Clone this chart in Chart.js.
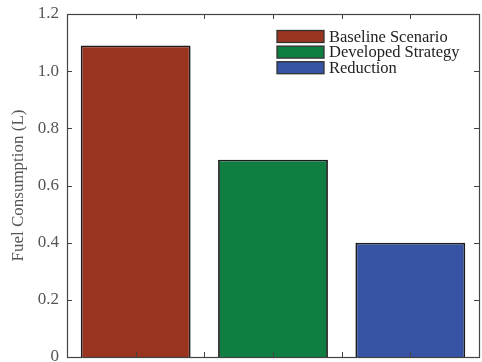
<!DOCTYPE html>
<html>
<head>
<meta charset="utf-8">
<script src="https://cdn.jsdelivr.net/npm/chart.js@4/dist/chart.umd.min.js"></script>
<style>
  html, body { margin: 0; padding: 0; background: #fff; overflow: hidden; width: 482px; height: 362px; }
  #wrap { width: 482px; height: 372px; }
</style>
</head>
<body>
<div id="wrap"><canvas id="c" width="482" height="372"></canvas></div>
<script>
// Fuel use per scenario (litres)
const categories = ['Baseline Scenario', 'Developed Strategy', 'Reduction'];
const fuelLitres = [1.09, 0.69, 0.40];
const barColors = ['#983420', '#0e7f40', '#3753a4'];
const yTickValues = [0, 0.2, 0.4, 0.6, 0.8, 1.0, 1.2];
const yTickLabels = ['0', '0.2', '0.4', '0.6', '0.8', '1.0', '1.2'];

const SERIF = '"Liberation Serif", "DejaVu Serif", serif';

// Box frame with inward tick marks on all four sides, plus the in-plot legend
const framePlugin = {
  id: 'frame',
  afterDatasetsDraw(chart) {
    const { ctx, chartArea: a, scales } = chart;
    const x = scales.x, y = scales.y;
    const tl = 5;
    ctx.save();
    ctx.strokeStyle = '#444';
    ctx.lineWidth = 1;
    ctx.beginPath();
    // y ticks, left and right
    yTickValues.forEach(v => {
      const py = Math.round(y.getPixelForValue(v)) + 0.5;
      ctx.moveTo(a.left, py); ctx.lineTo(a.left + tl, py);
      ctx.moveTo(a.right, py); ctx.lineTo(a.right - tl, py);
    });
    // x ticks at every half category step, top and bottom
    for (let k = 1; k < categories.length * 2; k++) {
      const v = k / 2 - 0.5;
      const px = Math.round(x.getPixelForValue(0) + (x.getPixelForValue(1) - x.getPixelForValue(0)) * v) + 0.5;
      ctx.moveTo(px, a.top); ctx.lineTo(px, a.top + tl);
      ctx.moveTo(px, a.bottom); ctx.lineTo(px, a.bottom - tl);
    }
    ctx.stroke();
    ctx.lineWidth = 1.2;
    ctx.strokeRect(Math.round(a.left) + 0.5, Math.round(a.top) + 0.5,
                   Math.round(a.right - a.left), Math.round(a.bottom - a.top));

    // legend
    const lx = a.right - 202, ly = a.top + 22.5;
    ctx.font = '16.5px ' + SERIF;
    ctx.textBaseline = 'middle';
    categories.forEach((name, i) => {
      const cy = ly + i * 15.6;
      ctx.fillStyle = barColors[i];
      ctx.fillRect(lx, cy - 6, 47, 12);
      ctx.strokeStyle = '#333';
      ctx.lineWidth = 1.3;
      ctx.strokeRect(lx, cy - 6, 47, 12);
      ctx.fillStyle = '#222';
      ctx.fillText(name, lx + 52, cy + 1);
    });
    ctx.restore();
  }
};

new Chart(document.getElementById('c'), {
  type: 'bar',
  data: {
    labels: categories,
    datasets: [{
      data: fuelLitres,
      backgroundColor: barColors,
      borderColor: '#1c1c1c',
      borderWidth: 1.8,
      barPercentage: 0.8,
      categoryPercentage: 1.0
    }]
  },
  options: {
    responsive: false,
    animation: false,
    events: [],
    layout: { padding: { top: 14, right: 3, left: 0, bottom: 0 } },
    plugins: { legend: { display: false }, tooltip: { enabled: false } },
    scales: {
      x: {
        offset: true,
        grid: { display: false, drawTicks: false },
        border: { display: false },
        ticks: { display: false },
        afterFit(s) { s.height = 15; }
      },
      y: {
        min: 0, max: 1.2,
        afterBuildTicks(s) { s.ticks = yTickValues.map(v => ({ value: v })); },
        afterFit(s) { s.width = 67; s.paddingTop = 0; s.paddingBottom = 0; },
        grid: { display: false, drawTicks: false },
        border: { display: false },
        ticks: {
          padding: 8,
          color: '#555',
          font: { family: SERIF, size: 17 },
          callback: (v, i) => yTickLabels[i]
        },
        title: {
          display: true,
          text: 'Fuel Consumption (L)',
          color: '#555',
          font: { family: SERIF, size: 17 },
          padding: { top: 8, bottom: 0 }
        }
      }
    }
  },
  plugins: [framePlugin]
});
</script>
</body>
</html>
